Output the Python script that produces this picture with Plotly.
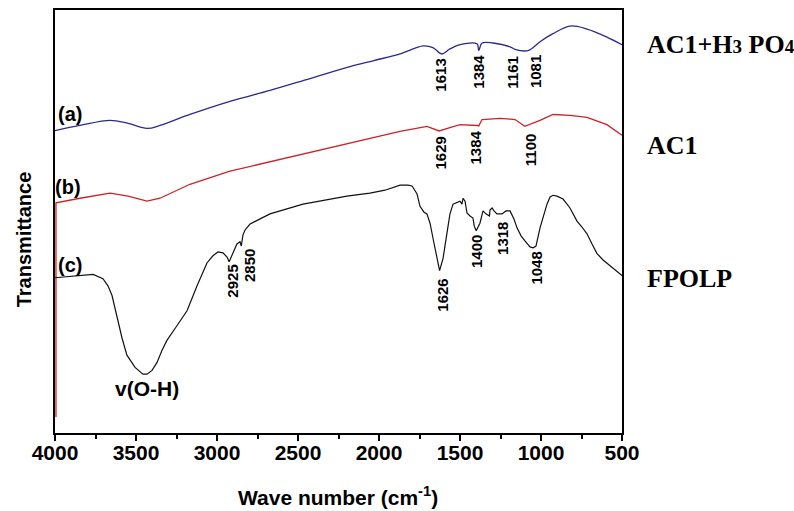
import plotly.graph_objects as go

# ---------------- data (arbitrary transmittance units) ----------------
wn_a = [4000, 3846, 3660, 3549, 3432, 3352, 3167, 2920, 2673, 2426, 2179, 2037, 1870, 1728, 1667,
        1613, 1562, 1500, 1395, 1384, 1364, 1296, 1191, 1161, 1081, 1006, 926, 821, 716, 593, 500]
t_a = [71.5, 72.7, 73.9, 73.2, 72.0, 72.7, 75.3, 78.4, 81.0, 83.8, 86.6, 88.0, 89.6, 91.5, 91.1,
       89.6, 90.8, 91.8, 92.0, 90.4, 92.2, 92.2, 91.3, 90.7, 90.4, 92.5, 94.4, 96.2, 95.5, 93.6, 91.8]

wn_b = [3994, 3994, 3846, 3660, 3549, 3432, 3352, 3167, 2920, 2673, 2426, 2179, 1870, 1704, 1667,
        1629, 1562, 1500, 1395, 1384, 1364, 1253, 1160, 1100, 1006, 926, 821, 716, 593, 500]
t_b = [3.8, 54.4, 55.5, 56.7, 56.0, 54.8, 55.5, 58.8, 61.9, 64.1, 66.4, 68.5, 71.3, 72.5, 72.0,
       71.4, 72.2, 72.9, 72.7, 72.6, 74.1, 74.4, 74.1, 72.5, 73.9, 75.3, 75.1, 74.6, 72.9, 70.4]

wn_c = [4000, 3877, 3765, 3704, 3673, 3648, 3617, 3586, 3556, 3506, 3457, 3432, 3401, 3370, 3340,
        3309, 3259, 3185, 3123, 3062, 3025, 2994, 2963, 2938, 2925, 2901, 2877, 2858, 2850, 2840,
        2827, 2796, 2735, 2673, 2469, 2198, 2056, 1963, 1870, 1821, 1796, 1765, 1747, 1722, 1704,
        1685, 1667, 1642, 1626, 1605, 1580, 1562, 1543, 1519, 1500, 1488, 1481, 1469, 1457, 1438,
        1420, 1412, 1400, 1377, 1358, 1340, 1318, 1315, 1302, 1290, 1272, 1241, 1216, 1191, 1167,
        1148, 1123, 1099, 1068, 1048, 1031, 1006, 981, 963, 944, 926, 901, 864, 821, 778, 747, 716,
        685, 654, 617, 574, 537, 500]
t_c = [36.7, 37.2, 37.5, 36.5, 34.8, 32.5, 27.1, 22.4, 18.4, 15.5, 13.9, 13.9, 14.8, 16.7, 19.5,
       21.9, 24.7, 28.9, 34.8, 40.2, 41.9, 42.8, 42.6, 41.6, 40.5, 42.4, 44.7, 45.2, 44.2, 46.8,
       48.0, 49.4, 50.6, 51.8, 54.1, 56.0, 56.7, 57.4, 58.6, 58.6, 58.4, 56.5, 53.6, 52.2, 51.8,
       49.6, 46.1, 41.2, 38.4, 41.2, 47.1, 51.8, 54.1, 54.6, 54.8, 54.1, 55.5, 54.8, 52.0, 51.3,
       50.8, 48.9, 47.8, 49.6, 52.5, 51.8, 51.3, 52.7, 53.2, 52.5, 51.8, 51.8, 52.5, 52.5, 50.6,
       48.5, 46.6, 45.4, 44.0, 43.8, 44.2, 48.5, 52.0, 54.1, 55.8, 56.2, 56.0, 55.3, 53.2, 50.1,
       48.7, 47.1, 44.7, 42.4, 40.9, 39.5, 38.4, 37.2]

peak_text = ["1613", "1384", "1161", "1081", "1629", "1384", "1100",
             "2925", "2850", "1626", "1400", "1318", "1048"]
curve_tags = ["(a)", "(b)", "(c)"]
sample_names = ["AC1+H<span style='font-size:19px'>3</span> PO<span style='font-size:19px'>4</span>",
                "AC1", "FPOLP"]
x_ticks = [4000, 3500, 3000, 2500, 2000, 1500, 1000, 500]

# ---------------- figure ----------------
fig = go.Figure()
fig.add_trace(go.Scatter(x=wn_a, y=t_a, mode="lines", line=dict(color="#2a2a8c", width=1.3),
                         line_shape="spline", showlegend=False))
fig.add_trace(go.Scatter(x=wn_b, y=t_b, mode="lines", line=dict(color="#cc2229", width=1.3),
                         showlegend=False))
fig.add_trace(go.Scatter(x=wn_c, y=t_c, mode="lines", line=dict(color="#111111", width=1.2),
                         showlegend=False))

# peak label positions (wavenumber, transmittance of label centre)
peak_pos = [(1623, 84.5), (1383, 85.4), (1173, 85.4), (1035, 85.4),
            (1623, 66.1), (1407, 67.5), (1068, 67.1),
            (2907, 35.8), (2796, 39.5), (1605, 32.7), (1395, 42.8), (1241, 46.1), (1025, 39.1)]
ann = []
for txt, (px, py) in zip(peak_text, peak_pos):
    ann.append(dict(x=px, y=py, text="<b>%s</b>" % txt, textangle=-90, showarrow=False,
                    xanchor="center", yanchor="middle",
                    font=dict(family="Liberation Sans, Arial", size=15, color="black")))

tag_pos = [(3907, 75.3), (3920, 58.1), (3907, 39.8)]
for txt, (px, py) in zip(curve_tags, tag_pos):
    ann.append(dict(x=px, y=py, text="<b>%s</b>" % txt, showarrow=False,
                    xanchor="center", yanchor="middle",
                    font=dict(family="Liberation Sans, Arial", size=20, color="black")))

ann.append(dict(x=3432, y=10.6, text="<b>v(O-H)</b>", showarrow=False,
                xanchor="center", yanchor="middle",
                font=dict(family="Liberation Sans, Arial", size=21, color="black")))

name_y = [0.918, 0.68, 0.365]
for txt, yy in zip(sample_names, name_y):
    ann.append(dict(xref="paper", yref="paper", x=1.04, y=yy, text="<b>%s</b>" % txt,
                    showarrow=False, xanchor="left", yanchor="middle",
                    font=dict(family="Liberation Serif, Times New Roman", size=26, color="black")))

ann.append(dict(xref="paper", yref="paper", x=0.499, y=-0.148,
                text="<b>Wave number (cm<sup>-1</sup>)</b>", showarrow=False,
                xanchor="center", yanchor="middle",
                font=dict(family="Liberation Sans, Arial", size=21, color="black")))
ann.append(dict(xref="paper", yref="paper", x=-0.0556, y=0.459, text="<b>Transmittance</b>",
                textangle=-90, showarrow=False, xanchor="center", yanchor="middle",
                font=dict(family="Liberation Sans, Arial", size=20, color="black")))

fig.update_layout(
    width=794, height=511,
    margin=dict(l=55, r=172, t=8, b=78),
    paper_bgcolor="white", plot_bgcolor="white",
    annotations=ann,
    xaxis=dict(range=[4000, 500], tickvals=x_ticks, ticktext=[str(v) for v in x_ticks],
               ticks="outside", ticklen=6, tickwidth=1.5, tickcolor="black",
               ticklabelstandoff=-6,
               minor=dict(dtick=250, tick0=0, ticks="outside", ticklen=4, tickwidth=1.5,
                          tickcolor="black", showgrid=False),
               showline=True, linecolor="black", linewidth=1.8, mirror=True,
               showgrid=False, zeroline=False,
               tickfont=dict(family="Liberation Sans, Arial", size=21, color="black", weight="bold")),
    yaxis=dict(range=[0, 100], showticklabels=False, ticks="", showgrid=False, zeroline=False,
               showline=True, linecolor="black", linewidth=1.8, mirror=True),
)

fig.write_html("out.html")
